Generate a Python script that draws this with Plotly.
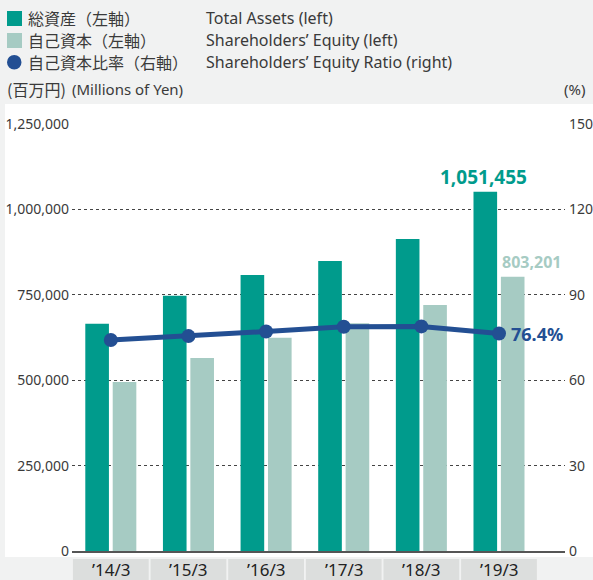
import plotly.graph_objects as go

categories = ["’14/3", "’15/3", "’16/3", "’17/3", "’18/3", "’19/3"]
total_assets = [665000, 747000, 808000, 849000, 913000, 1051455]
equity = [495000, 565000, 624000, 667000, 720000, 803201]
equity_ratio = [74.1, 75.5, 77.1, 78.8, 78.9, 76.4]
left_ticks = [0, 250000, 500000, 750000, 1000000, 1250000]
right_ticks = [0, 30, 60, 90, 120, 150]

DARK = "#009b8c"
LIGHT = "#a6cbc3"
NAVY = "#234f93"
TXT = "#3a3a3a"
BG = "#f1f2f2"
BOX = "#dcdedd"

W, H = 593, 580
L, R, T, B = 72, 28, 124, 29
PW, PH = W - L - R, H - T - B


def px(x):
    return (x - L) / PW


def py(y):
    return (H - B - y) / PH


EN = "Noto Sans"
JP = "Noto Sans CJK JP"

fig = go.Figure()
fig.add_trace(go.Bar(x=categories, y=total_assets, marker=dict(color=DARK, line=dict(width=0)),
                     name="総資産", yaxis="y"))
fig.add_trace(go.Bar(x=categories, y=equity, marker=dict(color=LIGHT, line=dict(width=0)),
                     name="自己資本", yaxis="y"))
fig.add_trace(go.Scatter(x=categories, y=equity_ratio, mode="lines+markers", yaxis="y2",
                         line=dict(color=NAVY, width=5), marker=dict(color=NAVY, size=14),
                         name="自己資本比率", cliponaxis=False))

shapes = []
# white panel
shapes.append(dict(type="rect", xref="paper", yref="paper", x0=px(5), x1=px(W + 2),
                   y0=py(557), y1=py(104), fillcolor="white", line=dict(width=0), layer="below"))
# category boxes
for c in categories:
    i = categories.index(c)
    shapes.append(dict(type="rect", xref="x", yref="paper", x0=i - 0.488, x1=i + 0.488,
                       y0=py(581), y1=py(559), fillcolor=BOX, line=dict(width=0), layer="below"))
# legend markers
shapes.append(dict(type="rect", xref="paper", yref="paper", x0=px(7), x1=px(22), y0=py(26), y1=py(11),
                   fillcolor=DARK, line=dict(width=0)))
shapes.append(dict(type="rect", xref="paper", yref="paper", x0=px(7), x1=px(22), y0=py(48), y1=py(33),
                   fillcolor=LIGHT, line=dict(width=0)))
shapes.append(dict(type="circle", xref="paper", yref="paper", x0=px(7), x1=px(21.5), y0=py(69.5), y1=py(55),
                   fillcolor=NAVY, line=dict(width=0)))

ann = []
leg_jp = ["総資産（左軸）", "自己資本（左軸）", "自己資本比率（右軸）"]
leg_en = ["Total Assets (left)", "Shareholders’ Equity (left)", "Shareholders’ Equity Ratio (right)"]
rows = [18, 40, 62]
for jp, en, ry in zip(leg_jp, leg_en, rows):
    ann.append(dict(text=jp, xref="paper", yref="paper", x=px(26), y=py(ry), xanchor="left",
                    yanchor="middle", showarrow=False, font=dict(family=JP, size=16, color=TXT)))
    ann.append(dict(text=en, xref="paper", yref="paper", x=px(204), y=py(ry), xanchor="left",
                    yanchor="middle", showarrow=False, font=dict(family=EN, size=16, color=TXT)))

ann.append(dict(text="(百万円)", xref="paper", yref="paper", x=px(5), y=py(89), xanchor="left",
                yanchor="middle", showarrow=False, font=dict(family=JP, size=16, color=TXT)))
ann.append(dict(text="(Millions of Yen)", xref="paper", yref="paper", x=px(70), y=py(89), xanchor="left",
                yanchor="middle", showarrow=False, font=dict(family=EN, size=15, color=TXT)))
ann.append(dict(text="(%)", xref="paper", yref="paper", x=px(587), y=py(89), xanchor="right",
                yanchor="middle", showarrow=False, font=dict(family=EN, size=15, color=TXT)))

for c in categories:
    ann.append(dict(text=c, xref="x", yref="paper", x=c, y=py(569), xanchor="center", yanchor="middle",
                    showarrow=False, font=dict(family=EN, size=17, color="#222")))

last = categories[-1]
ann.append(dict(text=f"<b>{total_assets[-1]:,}</b>", xref="x", yref="y", x=last, y=total_assets[-1],
                xanchor="center", yanchor="bottom", xshift=-16, yshift=0, showarrow=False,
                font=dict(family=EN, size=19, color=DARK)))
ann.append(dict(text=f"<b>{equity[-1]:,}</b>", xref="x", yref="y", x=last, y=equity[-1],
                xanchor="left", yanchor="bottom", xshift=1, yshift=2, showarrow=False,
                font=dict(family=EN, size=16, color=LIGHT)))
ann.append(dict(text=f"<b>{equity_ratio[-1]}%</b>", xref="x", yref="y2", x=last, y=equity_ratio[-1],
                xanchor="left", yanchor="middle", xshift=10, showarrow=False,
                font=dict(family=EN, size=18, color=NAVY)))

fig.update_layout(
    width=W, height=H, margin=dict(l=L, r=R, t=T, b=B, pad=0, autoexpand=False),
    paper_bgcolor=BG, plot_bgcolor="white",
    barmode="group", bargap=0.294, bargroupgap=0.138,
    showlegend=False, shapes=shapes, annotations=ann,
    font=dict(family=EN, color=TXT),
    xaxis=dict(type="category", showticklabels=False, showgrid=False, showline=True, automargin=False,
               linecolor="#555", linewidth=2, ticks="", zeroline=False),
    yaxis=dict(range=[0, 1250000], tickvals=left_ticks, tickformat=",", showgrid=True, automargin=False,
               gridcolor="#444", griddash="dot", gridwidth=1, zeroline=False, ticks="",
               ticklabelstandoff=2, tickfont=dict(family=EN, size=14, color=TXT), showline=False),
    yaxis2=dict(range=[0, 150], tickvals=right_ticks, overlaying="y", side="right", showgrid=False,
                zeroline=False, ticks="", ticklabelstandoff=3, automargin=False,
                tickfont=dict(family=EN, size=14, color=TXT), showline=False),
)

fig.write_html("out.html", config={"displayModeBar": False},
               post_script="document.body.style.margin='0';document.body.style.overflow='hidden';")
